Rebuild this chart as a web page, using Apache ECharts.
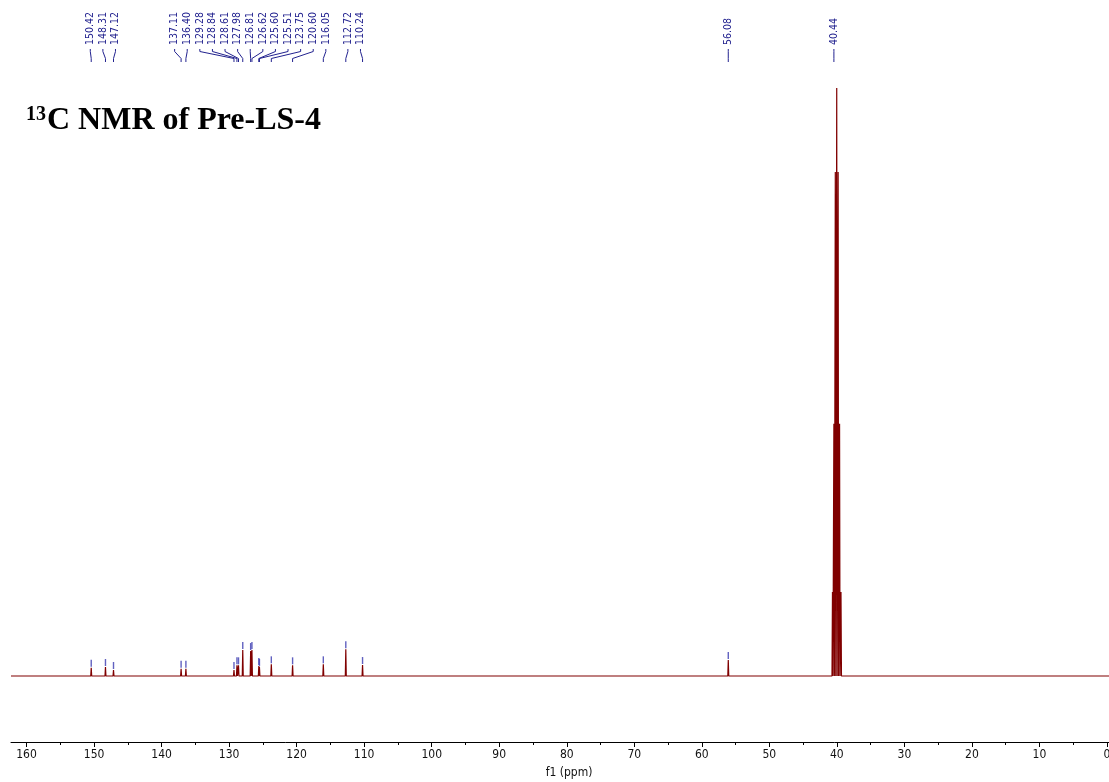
<!DOCTYPE html>
<html>
<head>
<meta charset="utf-8">
<script src="https://cdn.jsdelivr.net/npm/echarts@6/dist/echarts.min.js"></script>
<style>
  html, body { margin: 0; padding: 0; background: #ffffff; }
  #chart { width: 1109px; height: 782px; }
</style>
</head>
<body>
<div id="chart"></div>
<script>
// Resolved 13C lines (ppm) with relative intensities (central DMSO-d6 line = 100)
const lineShifts = [150.42, 148.31, 147.12, 137.11, 136.40, 129.28, 128.84, 128.61, 127.98,
  126.81, 126.62, 125.60, 125.51, 123.75, 120.60, 116.05, 112.72, 110.24,
  59.70, 57.70, 56.08, 55.50,
  40.65, 40.44, 40.23, 40.02, 39.81, 39.60, 39.39];
const lineHeights = [1.41, 1.53, 1.02, 1.24, 1.24, 1.02, 1.82, 1.82, 4.42,
  4.25, 4.42, 1.70, 1.55, 1.99, 1.82, 1.99, 4.54, 1.87,
  0.17, 0.20, 2.72, 0.15,
  14.3, 42.9, 85.7, 100, 85.7, 42.9, 14.3];

// Peak-picking results: labelled shifts and the picked intensity of each
const pickedShifts = [150.42, 148.31, 147.12, 137.11, 136.40, 129.28, 128.84, 128.61, 127.98,
  126.81, 126.62, 125.60, 125.51, 123.75, 120.60, 116.05, 112.72, 110.24, 56.08, 40.44];
const pickedHeights = [1.41, 1.53, 1.02, 1.24, 1.24, 1.02, 1.82, 1.82, 4.42,
  4.25, 4.42, 1.70, 1.55, 1.99, 1.82, 1.99, 4.54, 1.87, 2.72, 7.8];

// Axis ticks (ppm)
const majorTicks = [0, 10, 20, 30, 40, 50, 60, 70, 80, 90, 100, 110, 120, 130, 140, 150, 160];
const minorTicks = [5, 15, 25, 35, 45, 55, 65, 75, 85, 95, 105, 115, 125, 135, 145, 155];

const X_MIN = -0.3, X_MAX = 162.3;
const LINE_HALF_WIDTH = 0.07;   // ppm, drawn width of each resolved line
const RED = '#800000';
const BLUE = '#22228f';
const UI_FONT = '"DejaVu Sans Condensed", "DejaVu Sans", sans-serif';

// Build the spectrum trace: flat baseline with a narrow spike at each line
function buildTrace() {
  const pts = [[X_MAX, 0], [X_MIN, 0]];
  lineShifts.forEach((s, i) => {
    pts.push([s + LINE_HALF_WIDTH, 0], [s, lineHeights[i]], [s - LINE_HALF_WIDTH, 0]);
  });
  pts.sort((a, b) => b[0] - a[0]);
  return pts;
}

const chart = echarts.init(document.getElementById('chart'), null, { renderer: 'canvas', width: 1109, height: 782 });

const axisFont = { fontFamily: UI_FONT, fontSize: 12, color: '#111' };

chart.setOption({
  animation: false,
  backgroundColor: '#ffffff',
  grid: { left: 11, right: 0, top: 88, bottom: 40, containLabel: false, outerBoundsMode: 'none' },
  xAxis: [
    {
      type: 'value', inverse: true, min: X_MIN, max: X_MAX,
      position: 'bottom',
      name: 'f1 (ppm)', nameLocation: 'middle', nameGap: 25,
      nameTextStyle: Object.assign({}, axisFont, { padding: [0, 0, 0, 18] }),
      axisLine: { show: true, onZero: false, lineStyle: { color: '#000', width: 1 } },
      axisTick: { show: true, inside: false, length: 5, customValues: majorTicks, lineStyle: { color: '#000' } },
      axisLabel: Object.assign({ show: true, margin: 7, customValues: majorTicks, showMinLabel: true, showMaxLabel: true, hideOverlap: false }, axisFont),
      splitLine: { show: false }
    },
    {
      type: 'value', inverse: true, min: X_MIN, max: X_MAX,
      position: 'bottom',
      axisLine: { show: false, onZero: false },
      axisTick: { show: true, inside: false, length: 3, customValues: minorTicks, lineStyle: { color: '#000' } },
      axisLabel: { show: false },
      splitLine: { show: false }
    }
  ],
  yAxis: { type: 'value', min: -11.22, max: 100, show: false },
  series: [
    {
      type: 'line',
      xAxisIndex: 0,
      data: buildTrace(),
      showSymbol: false,
      symbol: 'none',
      lineStyle: { color: RED, width: 1.2 },
      silent: true,
      clip: false
    },
    {
      type: 'scatter',
      xAxisIndex: 0,
      data: pickedShifts.map((s, i) => [s, pickedHeights[i]]),
      symbol: 'rect',
      symbolSize: [1.4, 7],
      symbolOffset: [0, -4.5],
      itemStyle: { color: '#3a3ab0' },
      silent: true
    }
  ]
});

// Peak labels along the top: crowded neighbours are gathered into groups
// and each group is spread evenly around its centre
function layoutLabels() {
  const SPACING = 12.6;
  const MERGE_GAP = 19;
  const px = pickedShifts.map(s => chart.convertToPixel({ xAxisIndex: 0 }, s));
  const order = px.map((x, i) => i).sort((a, b) => px[a] - px[b]);
  let groups = order.map(i => ({ members: [i] }));
  const center = g => {
    const xs = g.members.map(i => px[i]);
    const mean = xs.reduce((t, v) => t + v, 0) / xs.length;
    const mid = (Math.min.apply(null, xs) + Math.max.apply(null, xs)) / 2;
    return (mean + mid) / 2;
  };
  let merged = true;
  while (merged) {
    merged = false;
    for (let k = 0; k < groups.length - 1; k++) {
      const a = groups[k], b = groups[k + 1];
      const aEnd = center(a) + (a.members.length - 1) * SPACING / 2;
      const bStart = center(b) - (b.members.length - 1) * SPACING / 2;
      if (bStart - aEnd < MERGE_GAP) {
        groups.splice(k, 2, { members: a.members.concat(b.members) });
        merged = true;
        break;
      }
    }
  }
  const labelX = new Array(px.length);
  groups.forEach(g => {
    const c = center(g);
    const start = c - (g.members.length - 1) * SPACING / 2;
    g.members.forEach((i, j) => { labelX[i] = start + j * SPACING; });
  });

  const elements = [];
  pickedShifts.forEach((s, i) => {
    const lx = labelX[i], pxI = px[i];
    elements.push({
      type: 'text',
      x: lx, y: 45,
      rotation: Math.PI / 2,
      style: {
        text: s.toFixed(2),
        font: '10.5px ' + UI_FONT,
        fill: BLUE,
        align: 'left',
        verticalAlign: 'middle'
      },
      silent: true
    });
    elements.push({
      type: 'polyline',
      shape: { points: [[lx, 49], [lx, 51.5], [pxI, 58.5], [pxI, 62]] },
      style: { stroke: BLUE, lineWidth: 1, fill: null },
      silent: true
    });
  });

  // Chart heading with superscripted mass number
  elements.push({
    type: 'text', x: 26, y: 115,
    style: { text: '13', font: 'bold 20px "Liberation Serif"', fill: '#000', align: 'left', verticalAlign: 'middle' },
    silent: true
  });
  elements.push({
    type: 'text', x: 47, y: 121,
    style: { text: 'C NMR of Pre-LS-4', font: 'bold 32px "Liberation Serif"', fill: '#000', align: 'left', verticalAlign: 'middle' },
    silent: true
  });

  chart.setOption({ graphic: { elements: elements } });
}

layoutLabels();
</script>
</body>
</html>
